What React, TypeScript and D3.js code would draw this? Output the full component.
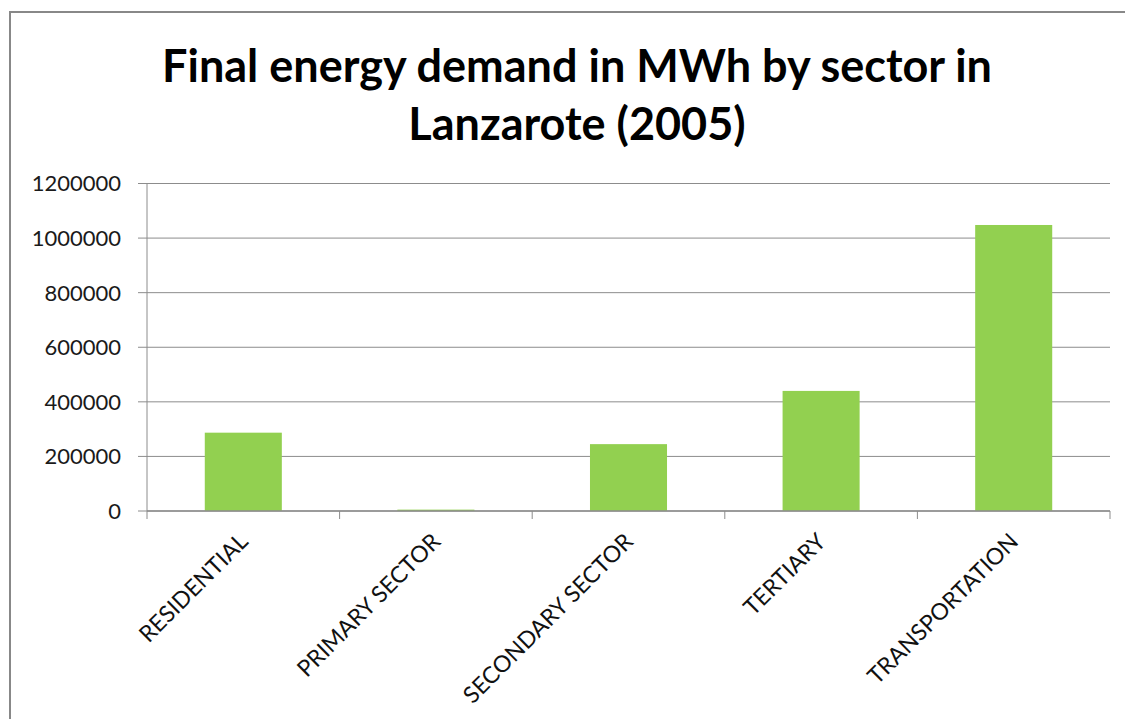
import React, { useEffect, useRef } from 'react';
import * as d3 from 'd3';

const sectors: string[] = ['RESIDENTIAL', 'PRIMARY SECTOR', 'SECONDARY SECTOR', 'TERTIARY', 'TRANSPORTATION'];
const demand: number[] = [287000, 5000, 245000, 440000, 1048000];
const yTicks: number[] = [0, 200000, 400000, 600000, 800000, 1000000, 1200000];
const titleLines: string[] = ['Final energy demand in MWh by sector in', 'Lanzarote (2005)'];

const App = () => {
    const chartRef = useRef<SVGSVGElement | null>(null);

    useEffect(() => {
        const svg = d3.select(chartRef.current);
        svg.selectAll('*').remove();

        const width = 1125;
        const height = 719;
        const left = 147, right = 1110, top = 183.5, bottom = 511;
        const font = 'Lato, "Open Sans", sans-serif';

        // chart frame
        svg.append('rect')
            .attr('x', 10).attr('y', 12)
            .attr('width', width + 20).attr('height', height + 20)
            .attr('fill', 'white')
            .attr('stroke', '#888')
            .attr('stroke-width', 2);

        svg.selectAll('.title')
            .data(titleLines)
            .enter()
            .append('text')
            .attr('x', 577)
            .attr('y', (d, i) => 82 + i * 58)
            .style('text-anchor', 'middle')
            .style('font-family', font)
            .style('font-weight', 'bold')
            .style('font-size', '45px')
            .attr('fill', '#000')
            .text(d => d);

        const xScale = d3.scaleBand()
            .domain(sectors)
            .range([left, right])
            .paddingInner(0.6)
            .paddingOuter(0.3);

        const yScale = d3.scaleLinear()
            .domain([0, 1200000])
            .range([bottom, top]);

        // gridlines
        svg.append('g')
            .selectAll('line')
            .data(yTicks)
            .enter()
            .append('line')
            .attr('x1', left - 9)
            .attr('x2', right)
            .attr('y1', d => yScale(d))
            .attr('y2', d => yScale(d))
            .attr('stroke', '#8c8c8c')
            .attr('stroke-width', 1);

        svg.append('g')
            .selectAll('text')
            .data(yTicks)
            .enter()
            .append('text')
            .attr('x', 121)
            .attr('y', d => yScale(d))
            .attr('dy', '0.36em')
            .style('text-anchor', 'end')
            .style('font-family', font)
            .style('font-size', '22px')
            .attr('fill', '#1a1a1a')
            .text(d => String(d));

        // y axis line
        svg.append('line')
            .attr('x1', left).attr('x2', left)
            .attr('y1', top).attr('y2', bottom)
            .attr('stroke', '#8c8c8c');

        svg.selectAll('rect.bar')
            .data(sectors)
            .enter()
            .append('rect')
            .attr('class', 'bar')
            .attr('x', d => xScale(d) ?? 0)
            .attr('y', (d, i) => yScale(demand[i]))
            .attr('width', xScale.bandwidth())
            .attr('height', (d, i) => bottom - yScale(demand[i]))
            .attr('fill', '#92d050');

        // x axis with boundary ticks
        const step = xScale.step();
        const bounds = d3.range(sectors.length + 1).map(i => left + i * step);
        svg.append('line')
            .attr('x1', left).attr('x2', right)
            .attr('y1', bottom).attr('y2', bottom)
            .attr('stroke', '#8c8c8c')
            .attr('stroke-width', 1.5);
        svg.append('g')
            .selectAll('line')
            .data(bounds)
            .enter()
            .append('line')
            .attr('x1', d => d).attr('x2', d => d)
            .attr('y1', bottom).attr('y2', bottom + 8)
            .attr('stroke', '#8c8c8c');

        svg.append('g')
            .selectAll('text')
            .data(sectors)
            .enter()
            .append('text')
            .attr('transform', d => `translate(${(xScale(d) ?? 0) + xScale.bandwidth() / 2 + 6},${bottom + 32}) rotate(-45)`)
            .style('text-anchor', 'end')
            .style('font-family', font)
            .style('font-size', '23px')
            .attr('fill', '#111')
            .text(d => d);
    }, []);

    return (
        <svg ref={chartRef} width={1125} height={719} style={{ position: 'absolute', left: 0, top: 0 }}></svg>
    );
};

export default App;
